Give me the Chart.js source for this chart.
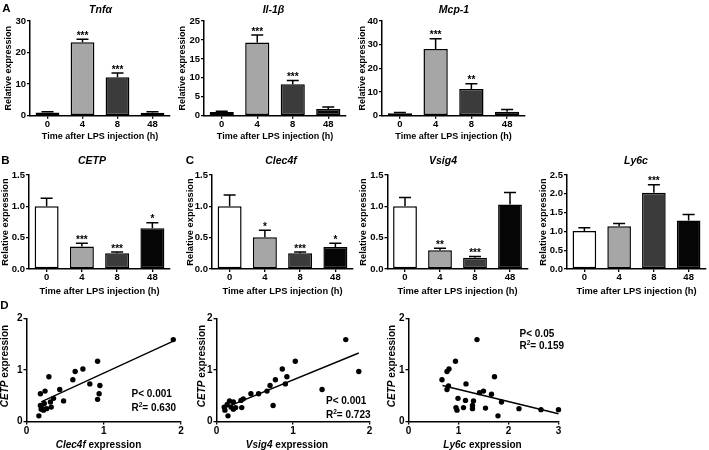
<!DOCTYPE html>
<html><head><meta charset="utf-8">
<script src="https://cdn.jsdelivr.net/npm/chart.js@4.4.1/dist/chart.umd.min.js"></script>
<style>
html,body{margin:0;padding:0;background:#fff;}
#wrap{position:relative;width:709px;height:450px;overflow:hidden;font-family:"Liberation Sans",Arial,sans-serif;color:#000;}
canvas{position:absolute;left:0;top:0;}
.t{position:absolute;white-space:nowrap;font-weight:bold;line-height:1;transform:translate(-50%,-50%);}
.l{position:absolute;white-space:nowrap;font-weight:bold;line-height:1;transform:translateY(-50%);font-size:10px;}
.r{position:absolute;white-space:nowrap;font-weight:bold;line-height:1;transform:translate(-50%,-50%) rotate(-90deg);font-size:10px;}
.pt{font-style:italic;font-size:10.5px;}
.lt{font-size:11.5px;}
sup{font-size:6.5px;vertical-align:4px;}
</style></head><body><div id="wrap">
<canvas id="cA1" width="709" height="450"></canvas>
<canvas id="cA2" width="709" height="450"></canvas>
<canvas id="cA3" width="709" height="450"></canvas>
<canvas id="cB" width="709" height="450"></canvas>
<canvas id="cC1" width="709" height="450"></canvas>
<canvas id="cC2" width="709" height="450"></canvas>
<canvas id="cC3" width="709" height="450"></canvas>
<canvas id="cD1" width="709" height="450"></canvas>
<canvas id="cD2" width="709" height="450"></canvas>
<canvas id="cD3" width="709" height="450"></canvas>

<div class="t lt" style="left:6.5px;top:8.5px">A</div>
<div class="t lt" style="left:5.5px;top:160.5px">B</div>
<div class="t lt" style="left:190px;top:160.5px">C</div>
<div class="t lt" style="left:4.5px;top:305.5px">D</div>

<div class="t pt" style="left:100.5px;top:8.5px">Tnfα</div>
<div class="t pt" style="left:273.5px;top:8.5px">Il-1β</div>
<div class="t pt" style="left:454px;top:8.5px">Mcp-1</div>
<div class="t pt" style="left:92px;top:160px">CETP</div>
<div class="t pt" style="left:281px;top:160px">Clec4f</div>
<div class="t pt" style="left:443px;top:160px">Vsig4</div>
<div class="t pt" style="left:636px;top:160px">Ly6c</div>

<div class="r" style="left:5px;top:366px"><i>CETP</i> expression</div>
<div class="r" style="left:201.5px;top:366px"><i>CETP</i> expression</div>
<div class="r" style="left:391.5px;top:366px"><i>CETP</i> expression</div>
<div class="t" style="left:98.5px;top:445px;font-size:10px"><i>Clec4f</i> expression</div>
<div class="t" style="left:287px;top:445px;font-size:10px"><i>Vsig4</i> expression</div>
<div class="t" style="left:482.5px;top:445px;font-size:10px"><i>Ly6c</i> expression</div>

<div class="l" style="left:131.5px;top:394px">P&lt; 0.001</div>
<div class="l" style="left:131.5px;top:406.5px">R<sup>2</sup>= 0.630</div>
<div class="l" style="left:326px;top:401px">P&lt; 0.001</div>
<div class="l" style="left:326px;top:414px">R<sup>2</sup>= 0.723</div>
<div class="l" style="left:519.5px;top:333.5px">P&lt; 0.05</div>
<div class="l" style="left:519.5px;top:344.5px">R<sup>2</sup>= 0.159</div>
</div>
<script>
// ---------- data ----------
const timeLabels = ['0', '4', '8', '48'];
const barColors = ['#ffffff', '#a6a6a6', '#3b3b3b', '#050505'];

const tnfMean = [1.0, 23.3, 12.2, 0.95];
const tnfErr  = [0.25, 0.9, 1.3, 0.3];
const tnfSig  = ['', '***', '***', ''];
const tnfTicks = [0, 10, 20, 30];

const il1bMean = [1.0, 19.3, 8.3, 1.8];
const il1bErr  = [0.2, 2.0, 1.0, 0.5];
const il1bSig  = ['', '***', '***', ''];
const il1bTicks = [0, 5, 10, 15, 20, 25];

const mcp1Mean = [1.0, 28.2, 11.3, 1.7];
const mcp1Err  = [0.3, 4.3, 2.2, 0.9];
const mcp1Sig  = ['', '***', '**', ''];
const mcp1Ticks = [0, 10, 20, 30, 40];

const cetpMean = [1.0, 0.36, 0.25, 0.65];
const cetpErr  = [0.13, 0.05, 0.02, 0.09];
const cetpSig  = ['', '***', '***', '*'];

const clec4fMean = [1.0, 0.505, 0.25, 0.35];
const clec4fErr  = [0.18, 0.115, 0.02, 0.06];
const clec4fSig  = ['', '*', '***', '*'];

const vsig4Mean = [1.0, 0.30, 0.18, 1.03];
const vsig4Err  = [0.14, 0.03, 0.02, 0.19];
const vsig4Sig  = ['', '**', '***', ''];

const ly6cMean = [1.01, 1.14, 2.03, 1.29];
const ly6cErr  = [0.09, 0.07, 0.21, 0.16];
const ly6cSig  = ['', '', '***', ''];

const smallTicks = [0, 0.5, 1.0, 1.5];
const ly6cTicks = [0, 0.5, 1.0, 1.5, 2.0, 2.5];

// correlation panels (D)
const clec4fX = [1.90,0.92,0.73,0.63,0.60,0.82,0.95,0.94,0.92,0.43,0.48,0.29,0.24,0.18,0.35,0.31,0.32,0.23,0.18,0.21,0.26,0.22,0.16,0.19];
const cetpY1  = [1.59,1.17,1.02,0.97,0.81,0.73,0.70,0.54,0.43,0.62,0.40,0.87,0.59,0.54,0.45,0.38,0.28,0.35,0.31,0.25,0.25,0.22,0.11,0.24];
const clec4fFit = [{x:0.19, y:0.38}, {x:1.90, y:1.56}];

const vsig4X = [1.69,1.86,1.38,1.03,0.86,0.92,0.90,0.77,0.70,0.66,0.74,0.55,0.45,0.35,0.32,0.33,0.22,0.17,0.14,0.19,0.11,0.15,0.22,0.10,0.25];
const cetpY2 = [1.59,0.97,0.62,1.17,1.02,0.87,0.73,0.81,0.70,0.59,0.31,0.54,0.54,0.44,0.41,0.27,0.38,0.40,0.33,0.28,0.22,0.11,0.24,0.28,0.27];
const vsig4Fit = [{x:0.10, y:0.26}, {x:1.86, y:1.33}];

const ly6cX  = [1.37,0.94,0.81,0.77,0.67,0.80,0.77,1.15,1.72,1.50,1.42,1.66,1.86,0.99,1.14,1.30,1.28,1.28,1.10,0.95,0.97,1.54,2.21,2.65,3.00,1.79];
const cetpY3 = [1.59,1.17,1.02,0.97,0.81,0.69,0.62,0.73,0.87,0.59,0.56,0.53,0.38,0.45,0.41,0.40,0.31,0.25,0.27,0.27,0.22,0.26,0.25,0.23,0.23,0.11];
const ly6cFit = [{x:0.68, y:0.70}, {x:3.00, y:0.15}];
const corrYTicks = [0, 1, 2];

// ---------- rendering ----------
const W = 709, H = 450;
const FAM = '"Liberation Sans", Arial, sans-serif';

const errPlugin = {
  id: 'errBars',
  afterDatasetsDraw(chart, args, opts) {
    const ds = chart.data.datasets[0];
    const meta = chart.getDatasetMeta(0);
    const ys = chart.scales.y, ctx = chart.ctx;
    ctx.save();
    ctx.strokeStyle = '#000'; ctx.lineWidth = 1.5; ctx.fillStyle = '#000';
    ctx.font = 'bold 10px ' + FAM; ctx.textAlign = 'center'; ctx.textBaseline = 'alphabetic';
    meta.data.forEach((bar, i) => {
      const yTop = ys.getPixelForValue(ds.data[i] + opts.err[i]);
      const x = bar.x;
      ctx.beginPath();
      ctx.moveTo(x, bar.y); ctx.lineTo(x, yTop);
      ctx.moveTo(x - 6, yTop); ctx.lineTo(x + 6, yTop);
      ctx.stroke();
      if (opts.sig[i]) ctx.fillText(opts.sig[i], x, yTop - 0.5);
    });
    ctx.restore();
  }
};

function barChart(id, p) {
  const axisFont = {family: FAM, size: p.fs, weight: 'bold'};
  const LH = p.fs * 1.2;
  const yW = p.L - (p.yTitleX - LH / 2);
  const xH = p.xTitleY + LH / 2 - p.B;
  new Chart(document.getElementById(id), {
    type: 'bar',
    data: {labels: timeLabels, datasets: [{data: p.mean, backgroundColor: barColors, borderColor: '#000',
      borderWidth: 1.5, borderSkipped: false, barPercentage: 0.68, categoryPercentage: 1}]},
    options: {
      responsive: false, animation: false, events: [],
      layout: {padding: {left: p.L - yW, right: W - p.R, top: p.T, bottom: H - p.B - xH}},
      plugins: {legend: {display: false}, tooltip: {enabled: false}, errBars: {err: p.err, sig: p.sig}},
      scales: {
        x: {
          grid: {drawOnChartArea: false, drawTicks: true, tickLength: 3, offset: false, color: '#000', lineWidth: 1.3},
          border: {display: true, color: '#000', width: 1.5},
          ticks: {color: '#000', font: {family: FAM, size: 9.5, weight: 'bold'}, padding: 0, maxRotation: 0, autoSkip: false},
          title: {display: true, text: 'Time after LPS injection (h)', color: '#000', font: axisFont, padding: 0},
          afterFit(s) { s.height = xH; }
        },
        y: {
          min: 0, max: p.ticks[p.ticks.length - 1],
          afterBuildTicks(s) { s.ticks = p.ticks.map(v => ({value: v})); },
          grid: {drawOnChartArea: false, drawTicks: true, tickLength: 3, color: '#000', lineWidth: 1.3},
          border: {display: true, color: '#000', width: 1.5},
          ticks: {color: '#000', font: {family: FAM, size: 9.5, weight: 'bold'}, padding: 1, callback: v => p.fmt(v)},
          title: {display: true, text: 'Relative expression', color: '#000', font: axisFont, padding: 0},
          afterFit(s) { s.width = yW; }
        }
      }
    },
    plugins: [errPlugin]
  });
}

const intFmt = v => String(v);
const decFmt = v => v.toFixed(1);
const rowA = {T: 21, B: 115.7, xTitleY: 136.7, fs: 9};
const rowB = {T: 175, B: 269, xTitleY: 291, fs: 9.3};

barChart('cA1', Object.assign({}, rowA, {L: 30, R: 170, yTitleX: 8.3, mean: tnfMean, err: tnfErr, sig: tnfSig, ticks: tnfTicks, fmt: intFmt}));
barChart('cA2', Object.assign({}, rowA, {L: 204, R: 346, yTitleX: 182.7, mean: il1bMean, err: il1bErr, sig: il1bSig, ticks: il1bTicks, fmt: intFmt}));
barChart('cA3', Object.assign({}, rowA, {L: 382, R: 525, yTitleX: 362.7, mean: mcp1Mean, err: mcp1Err, sig: mcp1Sig, ticks: mcp1Ticks, fmt: intFmt}));
barChart('cB',  Object.assign({}, rowB, {L: 29, R: 170, yTitleX: 5.3, mean: cetpMean, err: cetpErr, sig: cetpSig, ticks: smallTicks, fmt: decFmt}));
barChart('cC1', Object.assign({}, rowB, {L: 212, R: 353, yTitleX: 190.7, mean: clec4fMean, err: clec4fErr, sig: clec4fSig, ticks: smallTicks, fmt: decFmt}));
barChart('cC2', Object.assign({}, rowB, {L: 387.5, R: 527.5, yTitleX: 363.3, mean: vsig4Mean, err: vsig4Err, sig: vsig4Sig, ticks: smallTicks, fmt: decFmt}));
barChart('cC3', Object.assign({}, rowB, {L: 567, R: 706, yTitleX: 543.3, mean: ly6cMean, err: ly6cErr, sig: ly6cSig, ticks: ly6cTicks, fmt: decFmt}));

function corrChart(id, p) {
  const yW = 16, xH = 16;
  const pts = p.xs.map((x, i) => ({x: x, y: p.ys[i]}));
  const tf = {family: FAM, size: 10, weight: 'bold'};
  new Chart(document.getElementById(id), {
    type: 'scatter',
    data: {datasets: [
      {data: pts, pointRadius: 2.7, pointBorderWidth: 0, backgroundColor: '#000', borderColor: '#000', clip: false, order: 0},
      {type: 'line', data: p.fit, showLine: true, pointRadius: 0, borderColor: '#000', borderWidth: 1.4, fill: false, clip: false, order: 1}
    ]},
    options: {
      responsive: false, animation: false, events: [],
      layout: {padding: {left: p.L - yW, right: W - p.R, top: p.T, bottom: H - p.B - xH}},
      plugins: {legend: {display: false}, tooltip: {enabled: false}},
      scales: {
        x: {
          type: 'linear', min: 0, max: p.xTicks[p.xTicks.length - 1],
          afterBuildTicks(s) { s.ticks = p.xTicks.map(v => ({value: v})); },
          grid: {drawOnChartArea: false, drawTicks: true, tickLength: 3, color: '#000', lineWidth: 1.3},
          border: {display: true, color: '#000', width: 1.5},
          ticks: {color: '#000', font: tf, padding: 1, callback: v => String(v)},
          afterFit(s) { s.height = xH; }
        },
        y: {
          min: 0, max: 2,
          afterBuildTicks(s) { s.ticks = corrYTicks.map(v => ({value: v})); },
          grid: {drawOnChartArea: false, drawTicks: true, tickLength: 3, color: '#000', lineWidth: 1.3},
          border: {display: true, color: '#000', width: 1.5},
          ticks: {color: '#000', font: tf, padding: 1, callback: v => String(v)},
          afterFit(s) { s.width = yW; }
        }
      }
    }
  });
}

const rowD = {T: 318.5, B: 421.5};
corrChart('cD1', Object.assign({}, rowD, {L: 26.5, R: 181, xs: clec4fX, ys: cetpY1, fit: clec4fFit, xTicks: [0, 1, 2]}));
corrChart('cD2', Object.assign({}, rowD, {L: 216.5, R: 369.5, xs: vsig4X, ys: cetpY2, fit: vsig4Fit, xTicks: [0, 1, 2]}));
corrChart('cD3', Object.assign({}, rowD, {L: 408.5, R: 558.5, xs: ly6cX, ys: cetpY3, fit: ly6cFit, xTicks: [0, 1, 2, 3]}));
</script>
</body></html>
